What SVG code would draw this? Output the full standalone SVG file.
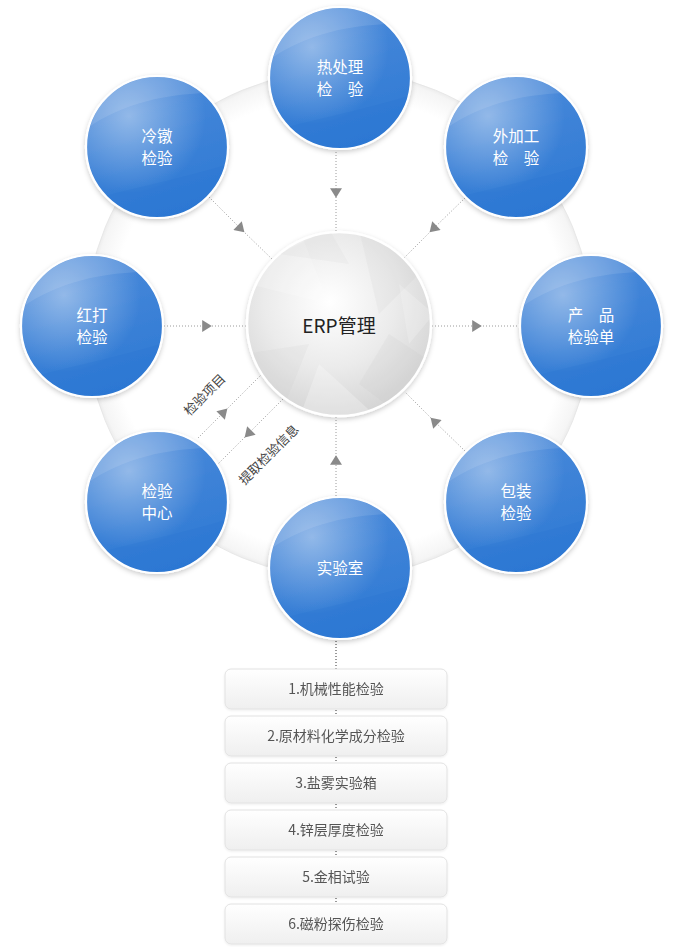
<svg xmlns="http://www.w3.org/2000/svg" xmlns:xlink="http://www.w3.org/1999/xlink" width="682" height="947" viewBox="0 0 682 947">
<style>
.nt{font-family:'Noto Sans CJK SC','Noto Sans',sans-serif;font-size:15.5px;fill:#fff;text-anchor:middle}
.ct{font-family:'Noto Sans CJK SC','Noto Sans',sans-serif;font-size:19px;fill:#222;text-anchor:middle}
.bt{font-family:'Noto Sans CJK SC','Noto Sans',sans-serif;font-size:14px;fill:#555;text-anchor:middle}
.lt{font-family:'Noto Sans CJK SC','Noto Sans',sans-serif;font-size:13px;fill:#444;text-anchor:middle}
.dl{fill:none;stroke:#9a9a9a;stroke-width:1;stroke-dasharray:1 2;marker-mid:url(#arr)}
.dk{fill:none;stroke:#333;stroke-width:1;stroke-dasharray:1 2}
.box{fill:url(#gBox);stroke:#e2e2e2;stroke-width:1}
</style>
<defs>
<filter id="sh" x="-20%" y="-20%" width="140%" height="145%">
<feDropShadow dx="0" dy="2" stdDeviation="2.5" flood-color="#000" flood-opacity="0.2"/>
</filter>
<filter id="sh2" x="-10%" y="-20%" width="120%" height="150%">
<feDropShadow dx="0" dy="1" stdDeviation="1" flood-color="#000" flood-opacity="0.07"/>
</filter>
<marker id="arr" viewBox="0 0 10 10" refX="5" refY="5" markerWidth="12" markerHeight="12" markerUnits="userSpaceOnUse" orient="auto">
<path d="M1,0 L9,5 L1,10 Z" fill="#8a8a8a"/>
</marker>
<radialGradient id="gRing" cx="0.5" cy="0.5" r="0.5">
<stop offset="0.9" stop-color="#ffffff"/>
<stop offset="0.985" stop-color="#f5f5f5"/>
<stop offset="1" stop-color="#ececec"/>
</radialGradient>
<linearGradient id="gBlue" x1="0.2" y1="0" x2="0.5" y2="1">
<stop offset="0" stop-color="#4d8bda"/>
<stop offset="0.5" stop-color="#3d82d7"/>
<stop offset="1" stop-color="#2f7ad4"/>
</linearGradient>
<radialGradient id="gHi" cx="0.3" cy="0.28" r="0.55">
<stop offset="0" stop-color="#ffffff" stop-opacity="0.42"/>
<stop offset="1" stop-color="#ffffff" stop-opacity="0"/>
</radialGradient>
<radialGradient id="gGray" cx="0.45" cy="0.38" r="0.65">
<stop offset="0" stop-color="#ffffff"/>
<stop offset="0.55" stop-color="#ebebeb"/>
<stop offset="1" stop-color="#d3d3d3"/>
</radialGradient>
<linearGradient id="gBox" x1="0" y1="0" x2="0" y2="1">
<stop offset="0" stop-color="#ffffff"/>
<stop offset="1" stop-color="#efefef"/>
</linearGradient>
<clipPath id="cBall"><circle r="70"/></clipPath>
<clipPath id="cCenter"><circle r="91"/></clipPath>
<g id="ball">
<circle r="71" fill="url(#gBlue)" stroke="#fff" stroke-width="2.2" filter="url(#sh)"/>
<circle r="70" fill="url(#gHi)"/>
<g clip-path="url(#cBall)">
<path d="M-75,-15 C-35,-45 15,-56 75,-54 L75,-80 L-75,-80 Z" fill="#fff" opacity="0.1"/>
<path d="M-75,55 C-30,42 25,32 75,16 L75,80 L-75,80 Z" fill="#1e6acb" opacity="0.14"/>
</g>
</g>
</defs>

<rect width="682" height="947" fill="#fff"/>

<circle id="ring" cx="339" cy="324" r="253" fill="url(#gRing)" stroke="#e4e4e4" stroke-width="0.8"/>

<g id="connectors">
<path class="dl" d="M336,152 L336,193 L336,231"/>
<path class="dl" d="M209,197 L241,229 L273,260"/>
<path class="dl" d="M465,198 L433,229 L404,258"/>
<path class="dl" d="M164,326 L207,326 L246,326"/>
<path class="dl" d="M432,326 L477,326 L519,326"/>
<path class="dl" d="M465,451 L434,421 L405,392"/>
<path class="dl" d="M336,496 L336,460 L336,417"/>
<path class="dl" d="M198,438 L224,412 L262,374"/>
<path class="dl" d="M283,399 L248,434 L218,464"/>
<text class="lt" transform="translate(208,398) rotate(-45)">检验项目</text>
<text class="lt" transform="translate(272,458) rotate(-45)">提取检验信息</text>
<path class="dk" d="M336,641 L336,669"/>
<path class="dk" d="M336,710 L336,716"/>
<path class="dk" d="M336,757 L336,763"/>
<path class="dk" d="M336,804 L336,810"/>
<path class="dk" d="M336,851 L336,857"/>
<path class="dk" d="M336,898 L336,904"/>
</g>

<g id="node-erp">
<circle cx="339" cy="324" r="92" fill="url(#gGray)" stroke="#fff" stroke-width="2.5" filter="url(#sh)"/>
<g transform="translate(339,324)" clip-path="url(#cCenter)">
<polygon points="-90,-40 -40,-95 -10,-20" fill="#fff" opacity="0.2"/>
<polygon points="20,-95 90,-60 40,-10" fill="#c4c4c4" opacity="0.13"/>
<polygon points="-95,30 -30,20 -60,95" fill="#c8c8c8" opacity="0.15"/>
<polygon points="-20,40 40,95 -40,95" fill="#fff" opacity="0.25"/>
<polygon points="50,10 95,40 60,90 20,60" fill="#c0c0c0" opacity="0.15"/>
<polygon points="-60,-70 -10,-95 10,-60" fill="#d0d0d0" opacity="0.15"/>
<polygon points="60,-40 95,-10 70,20" fill="#fff" opacity="0.2"/>
</g>
<text class="ct" x="339" y="333">ERP管理</text>
</g>

<g id="node-rechuli">
<use xlink:href="#ball" href="#ball" x="340" y="78"/>
<text class="nt" x="340" y="73">热处理</text>
<text class="nt" x="340" y="95">检　验</text>
</g>
<g id="node-lengdun">
<use xlink:href="#ball" href="#ball" x="157" y="147"/>
<text class="nt" x="157" y="142">冷镦</text>
<text class="nt" x="157" y="164">检验</text>
</g>
<g id="node-waijiagong">
<use xlink:href="#ball" href="#ball" x="516" y="147"/>
<text class="nt" x="516" y="142">外加工</text>
<text class="nt" x="516" y="164">检　验</text>
</g>
<g id="node-hongda">
<use xlink:href="#ball" href="#ball" x="92" y="326"/>
<text class="nt" x="92" y="321">红打</text>
<text class="nt" x="92" y="343">检验</text>
</g>
<g id="node-chanpin">
<use xlink:href="#ball" href="#ball" x="591" y="326"/>
<text class="nt" x="591" y="321">产　品</text>
<text class="nt" x="591" y="343">检验单</text>
</g>
<g id="node-jianyanzhongxin">
<use xlink:href="#ball" href="#ball" x="157" y="502"/>
<text class="nt" x="157" y="497">检验</text>
<text class="nt" x="157" y="519">中心</text>
</g>
<g id="node-baozhuang">
<use xlink:href="#ball" href="#ball" x="516" y="502"/>
<text class="nt" x="516" y="497">包装</text>
<text class="nt" x="516" y="519">检验</text>
</g>
<g id="node-shiyanshi">
<use xlink:href="#ball" href="#ball" x="340" y="568"/>
<text class="nt" x="340" y="574">实验室</text>
</g>

<g id="node-item1" filter="url(#sh2)">
<rect class="box" x="225" y="669" width="222" height="40" rx="6"/>
<text class="bt" x="336" y="694">1.机械性能检验</text>
</g>
<g id="node-item2" filter="url(#sh2)">
<rect class="box" x="225" y="716" width="222" height="40" rx="6"/>
<text class="bt" x="336" y="741">2.原材料化学成分检验</text>
</g>
<g id="node-item3" filter="url(#sh2)">
<rect class="box" x="225" y="763" width="222" height="40" rx="6"/>
<text class="bt" x="336" y="788">3.盐雾实验箱</text>
</g>
<g id="node-item4" filter="url(#sh2)">
<rect class="box" x="225" y="810" width="222" height="40" rx="6"/>
<text class="bt" x="336" y="835">4.锌层厚度检验</text>
</g>
<g id="node-item5" filter="url(#sh2)">
<rect class="box" x="225" y="857" width="222" height="40" rx="6"/>
<text class="bt" x="336" y="882">5.金相试验</text>
</g>
<g id="node-item6" filter="url(#sh2)">
<rect class="box" x="225" y="904" width="222" height="40" rx="6"/>
<text class="bt" x="336" y="929">6.磁粉探伤检验</text>
</g>
</svg>
